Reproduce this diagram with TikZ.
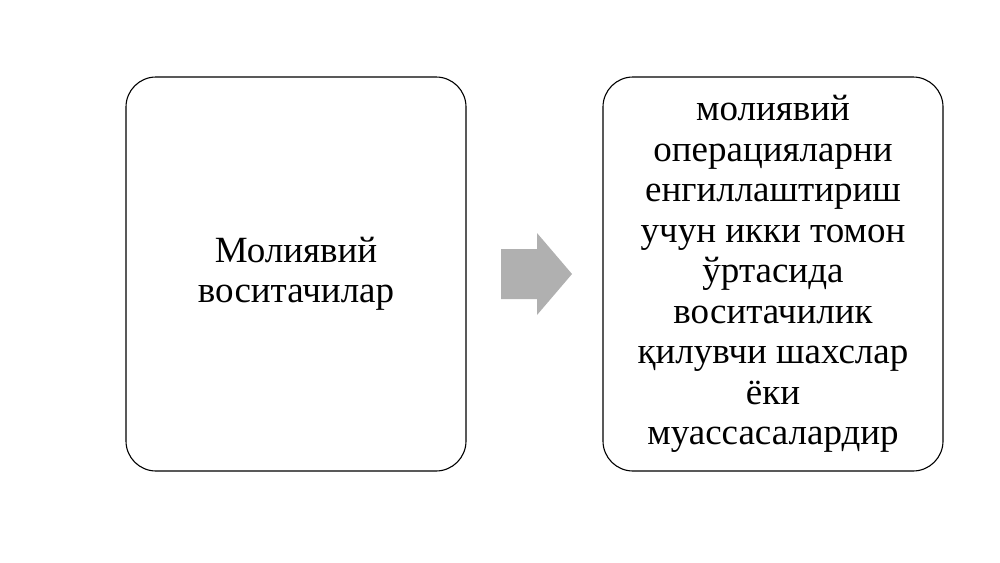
\documentclass[tikz,border=0pt]{standalone}
\usepackage{fontspec}
\setmainfont{Liberation Serif}
\begin{document}
\begin{tikzpicture}[x=1pt,y=-1pt,
  box/.style={draw=black, line width=1.1pt, rounded corners=30pt, minimum width=340pt, minimum height=394pt, align=center, inner sep=0pt,
    font=\fontsize{37}{40.5}\selectfont},
  arrowshape/.style={fill=black!31, draw=none}]
\useasboundingbox (0,0) rectangle (1000,562);
\node[box] (left) at (296,274) {Молиявий\\воситачилар};
\node[box] (right) at (773,274) {молиявий\\операцияларни\\енгиллаштириш\\учун икки томон\\ўртасида\\воситачилик\\қилувчи шахслар\\ёки\\муассасалардир};
\path[arrowshape] (501,249) -- (537,249) -- (537,233) -- (572,274) -- (537,315) -- (537,299) -- (501,299) -- cycle;
\end{tikzpicture}
\end{document}
